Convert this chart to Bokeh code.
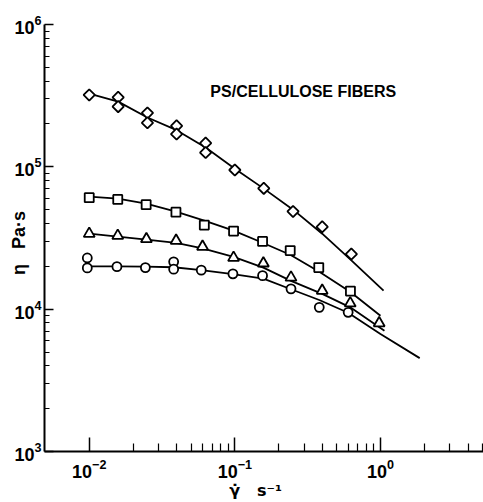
import math
from bokeh.plotting import figure
from bokeh.models import Range1d, FixedTicker, Label
from bokeh.embed import file_html
from bokeh.resources import INLINE

# ---- data (shear rate in 1/s, viscosity in Pa·s) ----
diamond_x = [0.01, 0.0158, 0.0158, 0.0251, 0.0251, 0.0398, 0.0398, 0.063, 0.063,
             0.1, 0.158, 0.251, 0.398, 0.631]
diamond_y = [3.2e5, 3.08e5, 2.65e5, 2.39e5, 2.04e5, 1.94e5, 1.70e5, 1.47e5, 1.26e5,
             9.5e4, 7.06e4, 4.86e4, 3.79e4, 2.44e4]

square_x = [0.01, 0.0157, 0.0246, 0.0394, 0.0617, 0.098, 0.155, 0.24, 0.377, 0.622]
square_y = [6.07e4, 5.9e4, 5.42e4, 4.8e4, 3.9e4, 3.54e4, 2.99e4, 2.58e4, 1.96e4, 1.34e4]

triangle_x = [0.01, 0.0157, 0.0247, 0.0395, 0.06, 0.098, 0.157, 0.243, 0.398, 0.62, 0.98]
triangle_y = [3.39e4, 3.28e4, 3.11e4, 3.03e4, 2.75e4, 2.3e4, 2.1e4, 1.67e4, 1.35e4,
              1.1e4, 7.98e3]

circle_x = [0.0097, 0.0097, 0.0155, 0.0243, 0.038, 0.038, 0.0588, 0.097, 0.155, 0.243,
            0.38, 0.6]
circle_y = [2.29e4, 1.95e4, 1.99e4, 1.96e4, 2.15e4, 1.91e4, 1.88e4, 1.77e4, 1.72e4,
            1.39e4, 1.03e4, 9.5e3]

# fitted curves
diamond_fit_x = [0.01, 0.0158, 0.0251, 0.0398, 0.063, 0.1, 0.158, 0.251, 0.398, 0.631, 1.05]
diamond_fit_y = [3.27e5, 2.87e5, 2.22e5, 1.81e5, 1.365e5, 9.7e4, 7.03e4, 5.0e4, 3.39e4,
                 2.2e4, 1.35e4]

square_fit_x = [0.01, 0.0157, 0.0246, 0.0394, 0.0617, 0.098, 0.155, 0.24, 0.38, 0.622, 1.0]
square_fit_y = [6.17e4, 5.97e4, 5.51e4, 4.84e4, 4.19e4, 3.56e4, 2.93e4, 2.41e4, 1.83e4,
                1.32e4, 9.0e3]

triangle_fit_x = [0.01, 0.0157, 0.0247, 0.0395, 0.06, 0.098, 0.157, 0.243, 0.398, 0.62, 1.065]
triangle_fit_y = [3.39e4, 3.23e4, 3.08e4, 2.92e4, 2.67e4, 2.33e4, 1.96e4, 1.58e4, 1.28e4,
                  1.03e4, 7.05e3]

circle_fit_x = [0.0097, 0.0155, 0.0243, 0.038, 0.0588, 0.097, 0.157, 0.243, 0.38, 0.6,
                1.0, 1.86]
circle_fit_y = [2.0e4, 2.0e4, 1.99e4, 1.97e4, 1.88e4, 1.76e4, 1.64e4, 1.38e4, 1.16e4,
                9.44e3, 6.7e3, 4.53e3]

x_major = [0.01, 0.1, 1.0]
x_minor = [m * d for d in (0.01, 0.1) for m in range(2, 10)] + [2.0, 3.0, 4.0, 5.0]
y_major = [1e3, 1e4, 1e5, 1e6]
y_minor = [m * d for d in (1e3, 1e4, 1e5) for m in range(2, 10)]

title_text = "PS/CELLULOSE FIBERS"
y_label = "η\u00a0\u00a0\u00a0Pa·s\u00a0\u00a0"
x_label = "γ\u0307\u00a0\u00a0\u00a0s⁻¹\u00a0\u00a0\u00a0"

FONT = "Liberation Sans"
INK = "black"

p = figure(width=483, height=502, x_axis_type="log", y_axis_type="log",
           x_range=Range1d(0.00493, 5.1), y_range=Range1d(1e3, 1e6),
           output_backend="svg", toolbar_location=None,
           min_border_left=44, min_border_right=0, min_border_top=24,
           min_border_bottom=51)
p.outline_line_color = None
p.xgrid.grid_line_color = None
p.ygrid.grid_line_color = None
p.background_fill_color = "white"
p.border_fill_color = "white"

for ax in (p.xaxis[0], p.yaxis[0]):
    ax.axis_line_width = 2
    ax.axis_line_color = INK
    ax.major_tick_line_width = 1.5
    ax.minor_tick_line_width = 1.2
    ax.major_tick_line_color = INK
    ax.minor_tick_line_color = INK
    ax.major_tick_out = 0
    ax.minor_tick_out = 0
    ax.major_label_text_font = FONT
    ax.major_label_text_font_style = "bold"
    ax.major_label_text_font_size = "18px"
    ax.major_label_text_color = INK

p.xaxis.ticker = FixedTicker(ticks=x_major, minor_ticks=x_minor)
p.yaxis.ticker = FixedTicker(ticks=y_major, minor_ticks=y_minor)
p.xaxis.major_tick_in = 14
p.xaxis.minor_tick_in = 8
p.yaxis.major_tick_in = 9
p.yaxis.minor_tick_in = 5
p.xaxis.major_label_standoff = 7
p.yaxis.major_label_standoff = 3

p.xaxis.axis_label = x_label
p.xaxis.axis_label_text_font = "DejaVu Sans"
p.xaxis.axis_label_text_font_style = "bold"
p.xaxis.axis_label_text_font_size = "16px"
p.xaxis.axis_label_standoff = 0
p.xaxis.axis_label_text_color = INK

p.yaxis.axis_label = y_label
p.yaxis.axis_label_text_font = FONT
p.yaxis.axis_label_text_font_style = "bold"
p.yaxis.axis_label_text_font_size = "18px"
p.yaxis.axis_label_standoff = -18
p.yaxis.axis_label_text_color = INK

# fitted lines
for fx, fy in ((diamond_fit_x, diamond_fit_y), (square_fit_x, square_fit_y),
               (triangle_fit_x, triangle_fit_y), (circle_fit_x, circle_fit_y)):
    p.line(fx, fy, line_color=INK, line_width=1.8)

# data markers
p.scatter(diamond_x, diamond_y, marker="square", angle=math.pi / 4, size=8,
          fill_color="white", line_color=INK, line_width=1.8)
p.scatter(square_x, square_y, marker="square", size=9,
          fill_color="white", line_color=INK, line_width=1.8)
p.scatter(triangle_x, triangle_y, marker="triangle", size=11,
          fill_color="white", line_color=INK, line_width=1.8)
p.scatter(circle_x, circle_y, marker="circle", size=9,
          fill_color="white", line_color=INK, line_width=1.8)

p.add_layout(Label(x=0.0679, y=3.38e5, text=title_text, text_font=FONT,
                   text_font_style="bold", text_font_size="16px",
                   text_baseline="middle", text_align="left", text_color=INK))

open("out.html", "w").write(file_html(p, INLINE))
